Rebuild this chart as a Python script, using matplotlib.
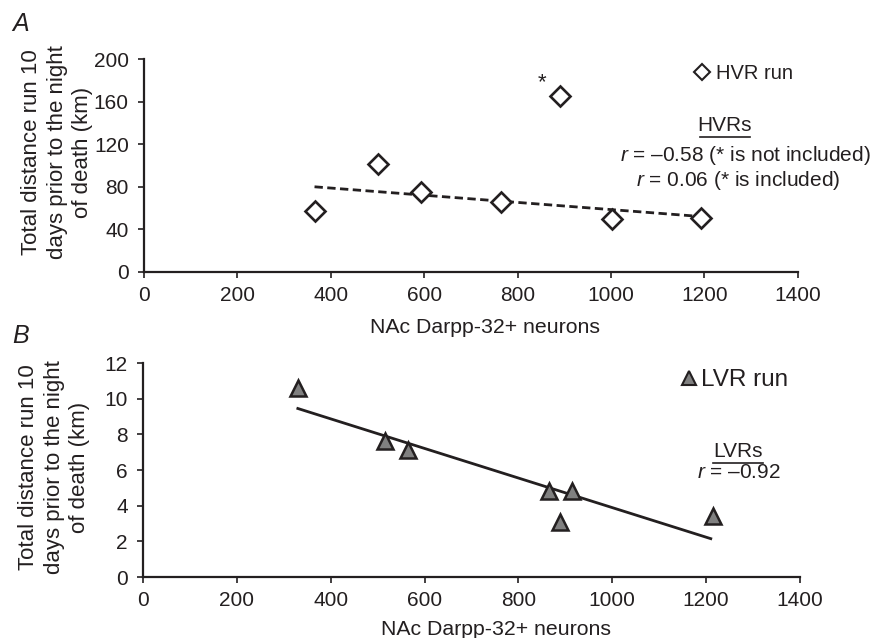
import numpy as np
import matplotlib.pyplot as plt
from matplotlib.lines import Line2D

plt.rcParams['font.family'] = ['Liberation Sans', 'DejaVu Sans']
plt.rcParams['mathtext.fontset'] = 'custom'
plt.rcParams['mathtext.it'] = 'Liberation Sans:italic'
plt.rcParams['mathtext.rm'] = 'Liberation Sans'

TXT = '#231f20'

# panel A: high-voluntary runners
hvr_neurons = [365, 500, 592, 765, 890, 1003, 1193]
hvr_run = [57, 101, 75, 66, 165, 50, 51]
hvr_fit_x = [365, 1195]
hvr_fit_y = [80, 52]
outlier_idx = 4

# panel B: low-voluntary runners
lvr_neurons = [330, 515, 565, 865, 888, 915, 1215]
lvr_run = [10.6, 7.6, 7.1, 4.8, 3.1, 4.8, 3.4]
lvr_fit_x = [330, 1210]
lvr_fit_y = [9.45, 2.15]

xticks = [0, 200, 400, 600, 800, 1000, 1200, 1400]
ylabel = 'Total distance run 10\ndays prior to the night\nof death (km)'
xlabel = 'NAc Darpp-32+ neurons'

fig = plt.figure(figsize=(8.92, 6.38), dpi=100)
axA = fig.add_axes([0.1615, 0.5737, 0.733, 0.3338])
axB = fig.add_axes([0.1603, 0.0956, 0.7365, 0.3354])

def style(ax, ymax, yticks):
    for s in ['top', 'right']:
        ax.spines[s].set_visible(False)
    for s in ['left', 'bottom']:
        ax.spines[s].set_linewidth(1.6)
        ax.spines[s].set_color(TXT)
    ax.set_xlim(0, 1400)
    ax.set_ylim(0, ymax)
    ax.set_xticks(xticks)
    ax.set_yticks(yticks)
    ax.tick_params(direction='out', length=4, width=1.2, colors=TXT,
                   labelsize=15)
    ax.tick_params(axis='x', pad=6)
    ax.tick_params(axis='y', pad=7)
    ax.set_ylabel(ylabel, fontsize=16, color=TXT, multialignment='center',
                  linespacing=1.28)
    ax.set_xlabel(xlabel, fontsize=15.3, color=TXT)

# ---- A
style(axA, 200, [0, 40, 80, 120, 160, 200])
axA.yaxis.set_label_coords(-0.078, 0.563)
axA.xaxis.set_label_coords(0.521, -0.216)
axA.plot(hvr_fit_x, hvr_fit_y, ls=(0, (3, 1.6)), color=TXT, lw=2, zorder=2)
axA.plot(hvr_neurons, hvr_run, ls='none', marker='D', ms=10.5, mfc='white',
         mec=TXT, mew=1.9, zorder=3)
axA.text(hvr_neurons[outlier_idx] - 38, hvr_run[outlier_idx] + 8, '*',
         fontsize=16, color=TXT, ha='center', va='baseline')
legA = axA.legend(handles=[Line2D([], [], ls='none', marker='D', ms=8.5, mfc='white',
                                  mec=TXT, mew=1.5)],
                  labels=['HVR run'], loc='center left', bbox_to_anchor=(0.838, 0.934),
                  frameon=False, handletextpad=0.2, handlelength=1.0,
                  fontsize=14.5, borderaxespad=0, borderpad=0)
for t in legA.get_texts():
    t.set_color(TXT)
axA.text(0.888, 0.643, 'HVRs', transform=axA.transAxes, ha='center',
         va='bottom', fontsize=15, color=TXT)
axA.plot([0.850, 0.927], [0.634, 0.634], transform=axA.transAxes, color=TXT,
         lw=1.2, clip_on=False)
axA.text(0.919, 0.545, '$r$ = \u20130.58 (* is not included)', transform=axA.transAxes,
         ha='center', va='center', fontsize=15, color=TXT, clip_on=False)
axA.text(0.908, 0.43, '$r$ = 0.06 (* is included)', transform=axA.transAxes,
         ha='center', va='center', fontsize=15, color=TXT, clip_on=False)

# ---- B
style(axB, 12, [0, 2, 4, 6, 8, 10, 12])
axB.yaxis.set_label_coords(-0.08, 0.514)
axB.xaxis.set_label_coords(0.537, -0.2)
axB.plot(lvr_fit_x, lvr_fit_y, color=TXT, lw=2, zorder=2)
axB.plot(lvr_neurons, lvr_run, ls='none', marker='^', ms=11, mfc='#808080',
         mec=TXT, mew=1.8, zorder=3)
legB = axB.legend(handles=[Line2D([], [], ls='none', marker='^', ms=10, mfc='#808080',
                                  mec=TXT, mew=1.5)],
                  labels=['LVR run'], loc='center left', bbox_to_anchor=(0.818, 0.92),
                  frameon=False, handletextpad=0.15, handlelength=0.7,
                  fontsize=17.5, borderaxespad=0, borderpad=0)
for t in legB.get_texts():
    t.set_color(TXT)
axB.text(0.906, 0.543, 'LVRs', transform=axB.transAxes, ha='center',
         va='bottom', fontsize=15, color=TXT)
axB.plot([0.868, 0.944], [0.533, 0.533], transform=axB.transAxes, color=TXT,
         lw=1.2, clip_on=False)
axB.text(0.907, 0.49, '$r$ = \u20130.92', transform=axB.transAxes,
         ha='center', va='center', fontsize=15, color=TXT)

fig.text(0.014, 0.962, 'A', fontsize=18, style='italic', color=TXT, va='center')
fig.text(0.014, 0.473, 'B', fontsize=18, style='italic', color=TXT, va='center')

fig.savefig('out.png', dpi=100)
